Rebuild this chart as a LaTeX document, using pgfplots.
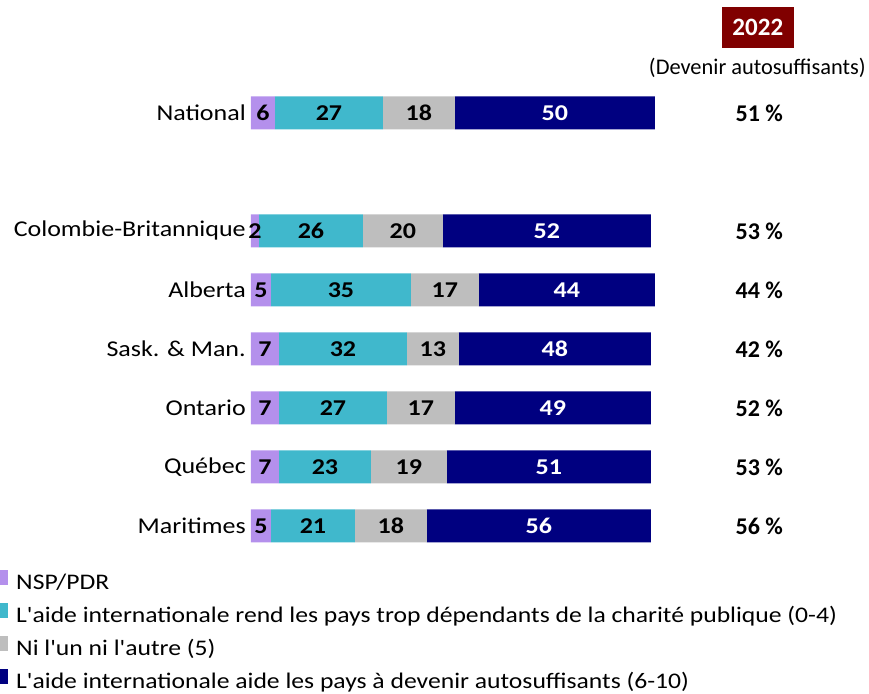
\documentclass[border=0pt]{standalone}
\usepackage{pgfplots}
\pgfplotsset{compat=1.18}
\usepackage{pgfplotstable}
\usepackage{fontspec}
\setmainfont{Carlito}
\newfontfamily\chartfont{Carlito}[FakeStretch=1.15]
\newfontfamily\plainfont{Carlito}

\definecolor{nsp}{HTML}{B490EC}
\definecolor{dep}{HTML}{40B8CC}
\definecolor{ni}{HTML}{BEBEBE}
\definecolor{auto}{HTML}{000080}
\definecolor{yr}{HTML}{800000}

% y: 7 = National, 5..0 = provinces
\pgfplotstableread{
y nsp dep ni auto tot
7 6 27 18 50 51
5 2 26 20 52 53
4 5 35 17 44 44
3 7 32 13 48 42
2 7 27 17 49 52
1 7 23 19 51 53
0 5 21 18 56 56
}\data

\newcommand{\lbl}{\chartfont\fontsize{22.6bp}{26bp}\selectfont}

\begin{document}
\begin{tikzpicture}
\path (0,0) rectangle (869bp,690bp);
\begin{axis}[
  at={(251bp,105bp)}, anchor=south west,
  scale only axis, width=400bp, height=531bp,
  xmin=0, xmax=100, ymin=-1, ymax=8,
  xbar stacked, bar width=33bp,
  axis line style={draw=none},
  xtick=\empty,
  ytick={0,1,2,3,4,5,7},
  yticklabels={Maritimes,Québec,Ontario,Sask. \& Man.,Alberta,Colombie-Britannique,National},
  major tick length=0pt,
  yticklabel style={font=\lbl, inner sep=0pt, xshift=-5bp},
  clip=false,
  nodes near coords={\pgfmathprintnumber[assume math mode=true]{\pgfplotspointmeta}},
  every node near coord/.append style={anchor=center, font=\lbl\bfseries, text=black},
  legend style={draw=none, fill=none, at={(-0.6275,0.028)}, anchor=north west,
    font=\chartfont\fontsize{22.3bp}{26bp}\selectfont, row sep=8.3bp, column sep=8bp, inner sep=0pt,
    nodes={inner sep=0pt, text height=16bp, text depth=5bp}},
  legend cell align=left,
  legend image code/.code={\fill (1bp,-1bp) rectangle (9bp,14bp);},
]
\addplot[fill=nsp, draw=none] table[x=nsp, y=y]{\data};
\addplot[fill=dep, draw=none] table[x=dep, y=y]{\data};
\addplot[fill=ni, draw=none] table[x=ni, y=y]{\data};
\addplot[fill=auto, draw=none, every node near coord/.append style={text=white}]
  table[x=auto, y=y]{\data};
\legend{NSP/PDR,
  L'aide internationale rend les pays trop dépendants de la charité publique (0-4),
  Ni l'un ni l'autre (5),
  L'aide internationale aide les pays à devenir autosuffisants (6-10)}
\end{axis}

% totals column
\begin{axis}[
  at={(251bp,105bp)}, anchor=south west,
  scale only axis, width=400bp, height=531bp,
  xmin=0, xmax=100, ymin=-1, ymax=8,
  hide axis, clip=false,
]
\addplot[draw=none, mark=*, mark size=0pt,
  nodes near coords={\pgfmathprintnumber[assume math mode=true]{\pgfplotspointmeta}~\%},
  point meta=explicit,
  every node near coord/.append style={anchor=center, text=black,
    font=\plainfont\bfseries\fontsize{24bp}{28bp}\selectfont}]
  table[x expr=127.1, y=y, meta=tot]{\data};
\end{axis}

\fill[yr] (722bp,642bp) rectangle (794bp,683bp);
\node[text=white, font=\plainfont\bfseries\fontsize{25bp}{28bp}\selectfont] at (758bp,662.5bp) {2022};
\node[font=\plainfont\fontsize{22.4bp}{26bp}\selectfont] at (757.5bp,622bp) {(Devenir autosuffisants)};
\end{tikzpicture}
\end{document}
